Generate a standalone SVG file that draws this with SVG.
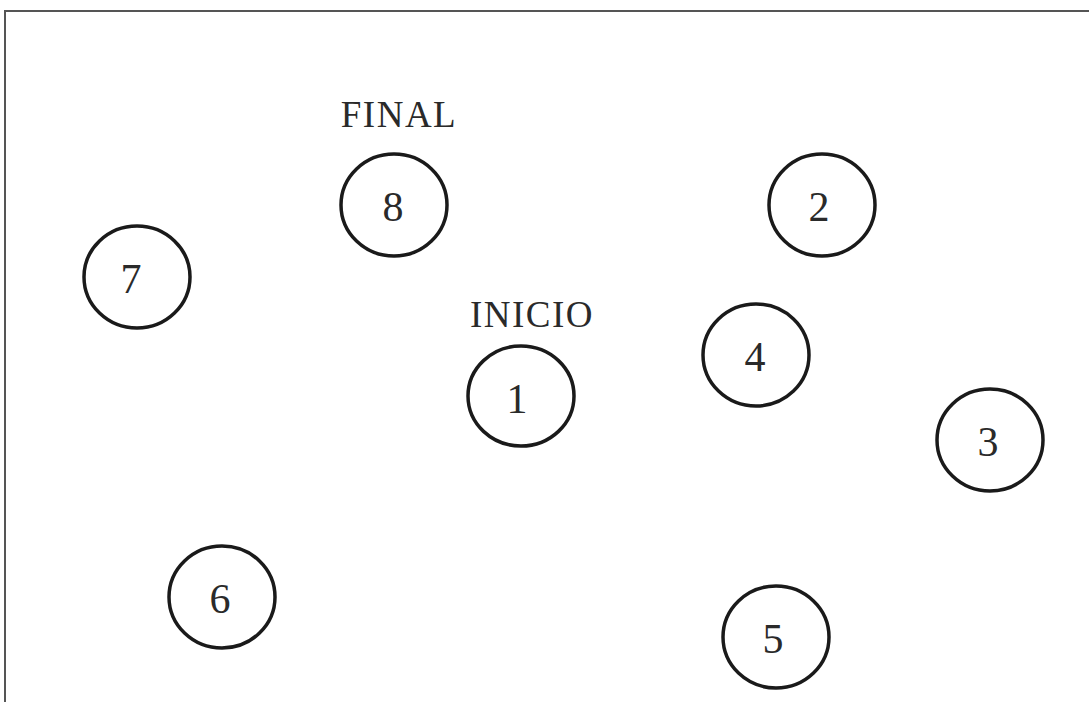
<svg xmlns="http://www.w3.org/2000/svg" width="1089" height="702" viewBox="0 0 1089 702">
<style>
.n{fill:none;stroke:#1a1a1a;stroke-width:3.5}
.t{font-family:"Liberation Serif",serif;fill:#2a2a2a;text-anchor:middle}
.num{font-size:42px}
.lbl{font-size:37px;letter-spacing:1.5px}
</style>
<rect width="1089" height="702" fill="#fff"/>
<path d="M5 702 V11 H1089" fill="none" stroke="#555" stroke-width="2"/>
<g id="connectors"></g>
<g id="label-final"><text class="t lbl" x="399" y="127">FINAL</text></g>
<g id="label-inicio"><text class="t lbl" x="532" y="327">INICIO</text></g>
<g id="node-8"><ellipse class="n" cx="394" cy="205" rx="53" ry="51"/><text class="t num" x="393" y="221">8</text></g>
<g id="node-2"><ellipse class="n" cx="822" cy="205" rx="53" ry="51"/><text class="t num" x="819" y="221">2</text></g>
<g id="node-7"><ellipse class="n" cx="137" cy="277" rx="53" ry="51"/><text class="t num" x="131" y="293">7</text></g>
<g id="node-1"><ellipse class="n" cx="521" cy="396" rx="53" ry="50"/><text class="t num" x="517" y="413">1</text></g>
<g id="node-4"><ellipse class="n" cx="756" cy="355" rx="53" ry="51"/><text class="t num" x="755" y="371">4</text></g>
<g id="node-3"><ellipse class="n" cx="990" cy="440" rx="53" ry="51"/><text class="t num" x="988" y="456">3</text></g>
<g id="node-6"><ellipse class="n" cx="222" cy="597" rx="53" ry="51"/><text class="t num" x="220" y="613">6</text></g>
<g id="node-5"><ellipse class="n" cx="776" cy="637" rx="53" ry="51"/><text class="t num" x="773" y="653">5</text></g>
</svg>
